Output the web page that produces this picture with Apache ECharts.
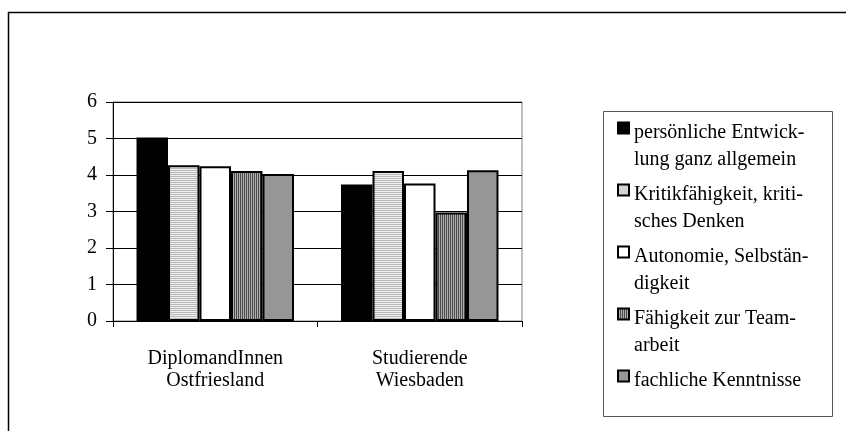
<!DOCTYPE html>
<html><head><meta charset="utf-8">
<script src="https://cdn.jsdelivr.net/npm/echarts@6/dist/echarts.min.js"></script>
<style>html,body{margin:0;padding:0;background:#fff}#c{width:846px;height:431px}</style>
</head><body><div id="c"></div>
<script>
var categories = ['DiplomandInnen\nOstfriesland', 'Studierende\nWiesbaden'];
var seriesNames = ['persönliche Entwick-\nlung ganz allgemein', 'Kritikfähigkeit, kriti-\nsches Denken', 'Autonomie, Selbstän-\ndigkeit', 'Fähigkeit zur Team-\narbeit', 'fachliche Kenntnisse'];
var entwicklung = [5.03, 3.74];
var kritik = [4.27, 4.11];
var autonomie = [4.24, 3.77];
var team = [4.11, 2.97];
var fachlich = [4.03, 4.13];
var yTicks = [0, 1, 2, 3, 4, 5, 6];

function stripes(horizontal, c1, c2) {
  var cv = document.createElement('canvas');
  cv.width = 2; cv.height = 2;
  var ctx = cv.getContext('2d');
  ctx.fillStyle = c2; ctx.fillRect(0, 0, 2, 2);
  ctx.fillStyle = c1;
  if (horizontal) ctx.fillRect(0, 0, 2, 1); else ctx.fillRect(0, 0, 1, 2);
  return {image: cv, repeat: 'repeat'};
}
var fills = ['#000000', stripes(true, '#b8b8b8', '#efefef'), '#ffffff', stripes(false, '#4a4a4a', '#b0b0b0'), '#969696'];
var values = [entwicklung, kritik, autonomie, team, fachlich];
var font = '"Liberation Serif", "Times New Roman", serif';
var fs = 20;

var chart = echarts.init(document.getElementById('c'), null, {renderer: 'canvas'});
chart.setOption({
  animation: false,
  textStyle: {fontFamily: font},
  grid: {left: 113, top: 102, right: 324, bottom: 110, show: true, borderColor: '#808080', borderWidth: 1},
  xAxis: {
    type: 'category', data: categories,
    axisLine: {lineStyle: {color: '#000', width: 1}},
    axisTick: {show: true, length: 6, lineStyle: {color: '#000'}, inside: false},
    axisLabel: {fontFamily: font, fontSize: fs, color: '#000', lineHeight: 22, margin: 27}
  },
  yAxis: {
    type: 'value', min: 0, max: 6, interval: 1,
    axisLine: {show: true, lineStyle: {color: '#000'}},
    axisTick: {show: true, length: 7, lineStyle: {color: '#000'}},
    axisLabel: {fontFamily: font, fontSize: fs, color: '#000', margin: 16,
      formatter: function (v) { return yTicks.indexOf(v) >= 0 ? String(v) : ''; }},
    splitLine: {show: true, lineStyle: {color: '#000', width: 1}}
  },
  legend: {
    orient: 'vertical', left: 617, top: 83, padding: 0,
    itemWidth: 11, itemHeight: 11, itemGap: -28,
    icon: 'rect',
    formatter: function (name) {
      var twoLine = name.indexOf('\n') >= 0;
      return '{t| }\n' + name + (twoLine ? '' : '\n{b| }');
    },
    textStyle: {fontFamily: font, fontSize: fs, color: '#000', lineHeight: 27,
      rich: {t: {fontSize: 2, lineHeight: 36}, b: {fontSize: 2, lineHeight: 27}}},
    data: seriesNames
  },
  graphic: [
    {type: 'rect', shape: {x: 8.5, y: 12.5, width: 850, height: 430}, style: {fill: null, stroke: '#000', lineWidth: 1.5}, silent: true},
    {type: 'rect', shape: {x: 603.5, y: 111.5, width: 229, height: 305}, style: {fill: null, stroke: '#555', lineWidth: 1}, silent: true, z: -1}
  ],
  series: seriesNames.map(function (n, i) {
    return {
      name: n, type: 'bar', data: values[i],
      barGap: '0%', barCategoryGap: '23%',
      itemStyle: {color: fills[i], borderColor: '#000', borderWidth: 2}
    };
  })
});
</script></body></html>
